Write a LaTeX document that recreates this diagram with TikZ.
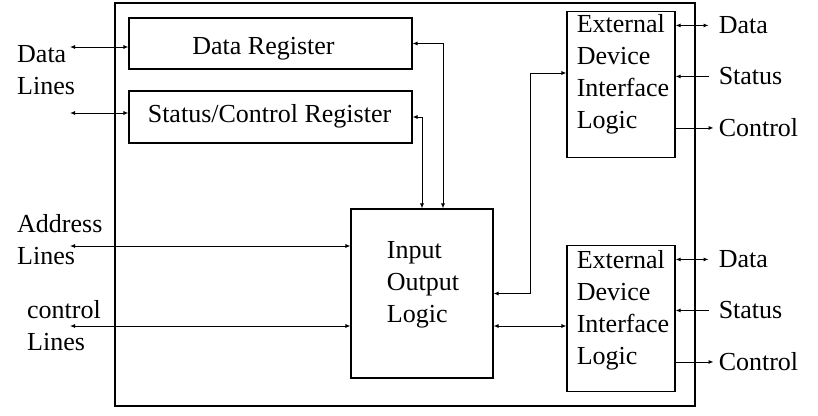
\documentclass[tikz,border=0pt]{standalone}
\usepackage{fontspec}
\setmainfont{Liberation Serif}
\usetikzlibrary{arrows.meta,positioning}

\begin{document}
\begin{tikzpicture}[
    x=1pt, y=-1pt,
    box/.style={rectangle, draw, line width=1.1pt, inner sep=0pt},
    txt/.style={font=\fontsize{26}{32}\selectfont, inner sep=0pt, align=left},
    link/.style={line width=0.9pt, {Latex[length=5pt,width=4pt]}-{Latex[length=5pt,width=4pt]}},
    >={Latex[length=5pt,width=4pt]}
  ]
  \useasboundingbox (0,0) rectangle (818,415);
  % interface module
  \node[box, minimum width=580pt, minimum height=403pt] (iface) at (405,204.5) {};
  \node[box, minimum width=283pt, minimum height=51pt] (dreg) at (270.5,43.5) {};
  \node[box, minimum width=283pt, minimum height=52pt] (sreg) at (270.5,117) {};
  \node[box, minimum width=142pt, minimum height=169pt] (iol) at (422,293.5) {};
  \node[box, minimum width=108pt, minimum height=146pt] (edil1) at (621,84.5) {};
  \node[box, minimum width=108pt, minimum height=146pt] (edil2) at (621,318.5) {};
  \node[txt] (dregT) at (263.5,49) {Data Register};
  \node[txt] (sregT) at (269.5,116) {Status/Control Register};
  \node[txt] (iolT) at (423,284.3) {Input\\Output\\Logic};
  \node[txt] (edil1T) at (623,74.5) {External\\Device\\Interface\\Logic};
  \node[txt] (edil2T) at (623,310) {External\\Device\\Interface\\Logic};
  % system bus side
  \node[txt, anchor=west] (dlines) at (17,70.4) {Data\\Lines};
  \node[txt, anchor=west] (alines) at (17,240) {Address\\Lines};
  \node[txt, anchor=west] (clines) at (27,326) {control\\Lines};
  \coordinate (dl) at (70,47);
  \coordinate (sl) at (70,113);
  \coordinate (al) at (70,246);
  \coordinate (cl) at (70,326);
  \draw[link] (dl) -- (dl -| dreg.west);
  \draw[link] (sl) -- (sl -| sreg.west);
  \draw[link] (al) -- (al -| iol.west);
  \draw[link] (cl) -- (cl -| iol.west);
  % registers <-> logic
  \draw[link] (dreg.east) -| ([xshift=21pt]iol.north);
  \draw[link] (sreg.east) -| (iol.north);
  \draw[link] (iol.east) -- ++(37,0) |- ([yshift=11.5pt]edil1.west);
  \draw[link] ([yshift=-32.5pt]iol.east) -- ([yshift=-32.5pt]iol.east -| edil2.west);
  % device side
  \foreach \n in {1,2} {
    \node[txt, anchor=west] (dat\n) at ([xshift=43pt,yshift=-14.5pt]edil\n.north east) {Data};
    \node[txt, anchor=west] (sta\n) at ([xshift=43pt,yshift=-65.5pt]edil\n.north east) {Status};
    \node[txt, anchor=west] (con\n) at ([xshift=43pt,yshift=-117pt]edil\n.north east) {Control};
    \draw[link] (dat\n -| edil\n.east) -- ([xshift=-10pt]dat\n.west);
    \draw[->, line width=0.9pt] ([xshift=-10pt]sta\n.west) -- (sta\n -| edil\n.east);
    \draw[->, line width=0.9pt] (con\n -| edil\n.east) -- ([xshift=-5pt]con\n.west);
  }
\end{tikzpicture}
\end{document}
